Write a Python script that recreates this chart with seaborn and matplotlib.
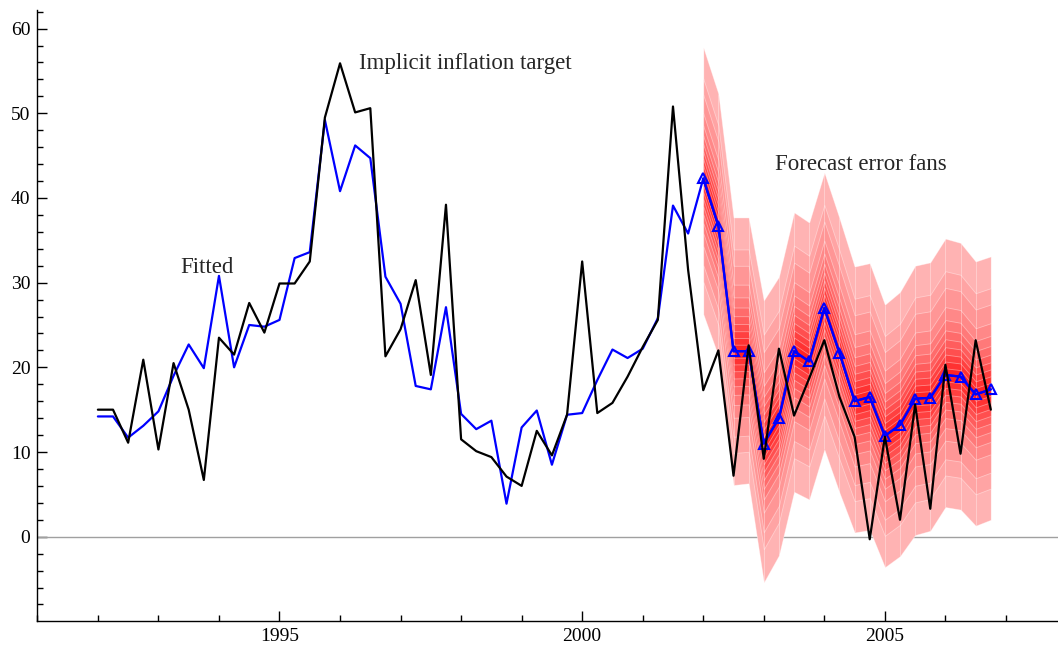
import numpy as np
import pandas as pd
import matplotlib
matplotlib.use("Agg")
import matplotlib.pyplot as plt
from matplotlib.ticker import MultipleLocator
import seaborn as sns
from statistics import NormalDist

# Quarterly data, 1992Q1 - 2006Q4
target = [15.0, 15.0, 11.1, 20.9,
          10.3, 20.5, 15.0, 6.7,
          23.5, 21.5, 27.6, 24.1,
          29.9, 29.9, 32.5, 49.5,
          55.9, 50.1, 50.6, 21.3,
          24.5, 30.3, 19.1, 39.2,
          11.5, 10.1, 9.4, 7.1,
          6.0, 12.5, 9.6, 14.4,
          32.5, 14.6, 15.8, 18.9,
          22.4, 25.6, 50.8, 31.5,
          17.3, 22.0, 7.2, 22.6,
          9.2, 22.2, 14.3, 18.7,
          23.2, 16.5, 11.8, -0.3,
          11.8, 2.0, 15.6, 3.3,
          20.3, 9.8, 23.2, 15.0]

# Fitted values, 1992Q1 - 2001Q4
fitted = [14.2, 14.2, 11.7, 13.1,
          14.8, 19.0, 22.7, 19.9,
          30.8, 20.0, 25.0, 24.8,
          25.6, 32.9, 33.6, 49.2,
          40.8, 46.2, 44.7, 30.7,
          27.5, 17.8, 17.4, 27.1,
          14.5, 12.7, 13.7, 3.9,
          12.9, 14.9, 8.5, 14.4,
          14.6, 18.5, 22.1, 21.1,
          22.2, 25.8, 39.1, 35.8]

# Forecasts, 2002Q1 - 2006Q4, with outer limits of the error fan
forecast = [42.3, 36.7, 21.9, 21.9, 11.0, 14.0, 21.9, 20.7, 27.0, 21.7,
            16.0, 16.5, 11.9, 13.2, 16.3, 16.4, 19.1, 18.9, 16.8, 17.4]
fan_upper = [57.8, 52.3, 37.7, 37.7, 27.9, 30.7, 38.3, 37.1, 43.0, 37.6,
             31.9, 32.3, 27.4, 28.9, 32.0, 32.4, 35.2, 34.7, 32.5, 33.1]
fan_lower = [26.3, 21.3, 6.1, 6.3, -5.4, -2.2, 5.3, 4.4, 10.3, 5.2,
             0.5, 0.8, -3.6, -2.3, 0.2, 0.7, 3.5, 3.2, 1.3, 2.0]
fan_levels = [0.99, 0.95, 0.9, 0.8, 0.7, 0.6, 0.5, 0.4, 0.3, 0.2, 0.1]

years = 1992 + np.arange(len(target)) / 4
n_fit = len(fitted)
actual_df = pd.DataFrame({'date': years, 'value': target})
blue_df = pd.DataFrame({'date': years, 'value': fitted + forecast})
fc_df = pd.DataFrame({'date': years[n_fit:], 'value': forecast,
                      'upper': fan_upper, 'lower': fan_lower})

sns.set_style('ticks')
plt.rcParams['font.family'] = ['Liberation Serif', 'DejaVu Serif']

fig = plt.figure(figsize=(10.58, 6.54), dpi=100)
ax = fig.add_axes([0.0353, 0.0505, 0.9647, 0.9343])

ax.axhline(0, color='#a0a0a0', lw=1.0, zorder=1)

# error fans: normal quantile bands scaled to the outer limit
nd = NormalDist()
zmax = nd.inv_cdf((1 + fan_levels[0]) / 2)
centre = fc_df['value'].to_numpy()
up = fc_df['upper'].to_numpy() - centre
dn = centre - fc_df['lower'].to_numpy()
light = np.array([1.0, 0.70, 0.70])
dark = np.array([1.0, 0.14, 0.14])
for i, lev in enumerate(fan_levels):
    r = nd.inv_cdf((1 + lev) / 2) / zmax
    col = light + (dark - light) * i / (len(fan_levels) - 1)
    ax.fill_between(fc_df['date'], centre - r * dn, centre + r * up,
                    facecolor=col, edgecolor=(1, 1, 1, 0.4), linewidth=0.6, zorder=2)
ax.vlines(fc_df['date'], fc_df['lower'], fc_df['upper'],
          colors=[(1, 1, 1, 0.4)], linewidth=0.6, zorder=2)

sns.lineplot(data=blue_df, x='date', y='value', color='blue', lw=1.6,
             legend=False, ax=ax, zorder=3)
sns.lineplot(data=fc_df, x='date', y='value', color='blue', lw=1.6,
             marker='^', markersize=7, markerfacecolor='none',
             markeredgecolor='blue', markeredgewidth=1.5,
             legend=False, ax=ax, zorder=4)
sns.lineplot(data=actual_df, x='date', y='value', color='black', lw=1.6,
             legend=False, ax=ax, zorder=5)

ax.text(1996.31, 55.2, 'Implicit inflation target', fontsize=16.5, va='baseline')
ax.text(1993.36, 31.1, 'Fitted', fontsize=16.5, va='baseline')
ax.text(2003.19, 43.3, 'Forecast error fans', fontsize=16.5, va='baseline')

ax.set_xlim(1991, 2007.86)
ax.set_ylim(-9.95, 62.2)
ax.xaxis.set_major_locator(MultipleLocator(5))
ax.xaxis.set_minor_locator(MultipleLocator(1))
ax.yaxis.set_major_locator(MultipleLocator(10))
ax.yaxis.set_minor_locator(MultipleLocator(2))
ax.tick_params(which='major', direction='in', length=7, width=1, colors='black',
               labelsize=14, pad=5)
ax.tick_params(which='minor', direction='in', length=4, width=1, colors='black')
ax.set_xlabel('')
ax.set_ylabel('')
sns.despine(ax=ax)
for s in ['left', 'bottom']:
    ax.spines[s].set_linewidth(1.0)
    ax.spines[s].set_color('black')

fig.savefig('out.png', dpi=100)
